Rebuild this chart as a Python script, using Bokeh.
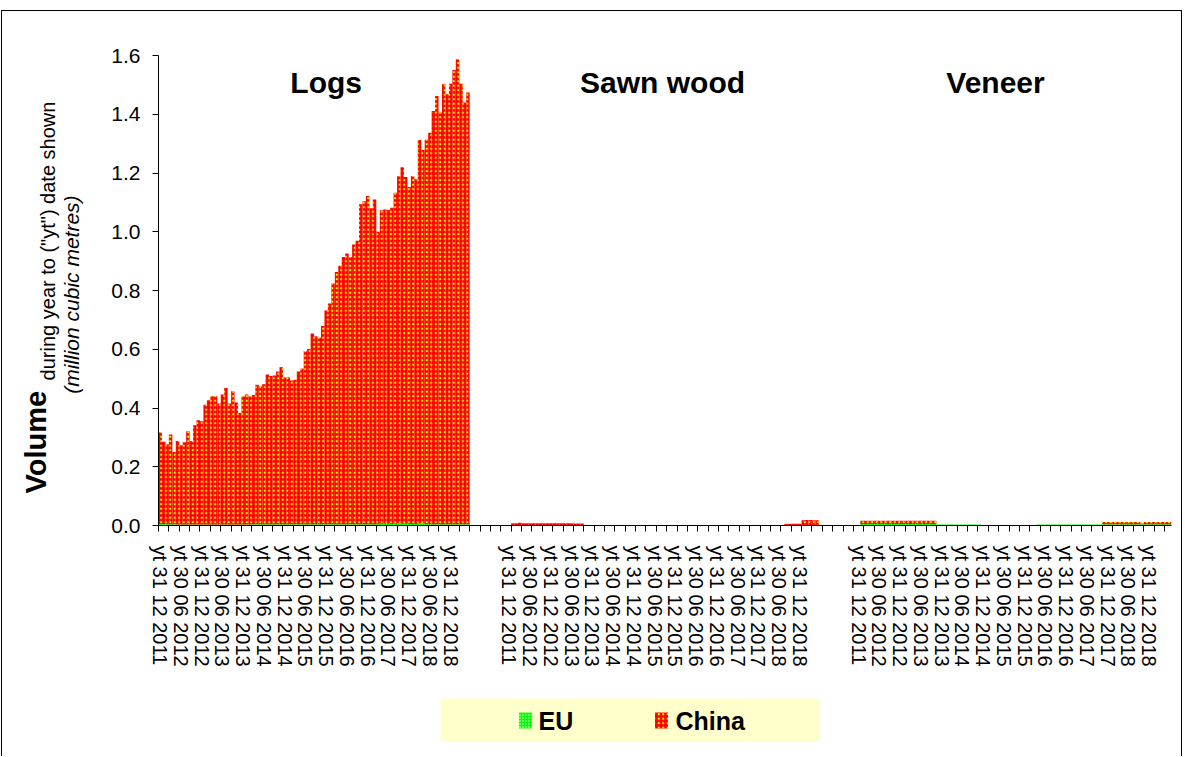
import math
import numpy as np
from bokeh.plotting import figure
from bokeh.models import ColumnDataSource, FixedTicker, Range1d, Label, PrintfTickFormatter, Spacer
from bokeh.layouts import column, row
from bokeh.embed import file_html
from bokeh.resources import INLINE
from bokeh.core.properties import value

FONT = "Liberation Sans"

# ---------------- data ----------------
groups = ["Logs", "Sawn wood", "Veneer"]
series = ["EU", "China"]
tick_labels = ["yt 31 12 2011", "yt 30 06 2012", "yt 31 12 2012", "yt 30 06 2013",
               "yt 31 12 2013", "yt 30 06 2014", "yt 31 12 2014", "yt 30 06 2015",
               "yt 31 12 2015", "yt 30 06 2016", "yt 31 12 2016", "yt 30 06 2017",
               "yt 31 12 2017", "yt 30 06 2018", "yt 31 12 2018"]
y_ticks = [0.0, 0.2, 0.4, 0.6, 0.8, 1.0, 1.2, 1.4, 1.6]
y_title = ["Volume", 'during year to ("yt") date shown', "(million cubic metres)"]

# monthly "year to" volumes, million m3, from Dec 2011
logs_eu = [0.005, 0.005, 0.004, 0.004, 0.004, 0.003, 0.003, 0.003, 0.003, 0.003,
           0.003, 0.003, 0.003, 0.003, 0.003, 0.003, 0.003, 0.003, 0.003, 0.003,
           0.003, 0.003, 0.003, 0.003, 0.003, 0.003, 0.003, 0.004, 0.004, 0.004,
           0.004, 0.004, 0.004, 0.004, 0.004, 0.004, 0.004, 0.004, 0.004, 0.004,
           0.004, 0.004, 0.004, 0.004, 0.004, 0.004, 0.004, 0.004, 0.004, 0.004,
           0.004, 0.004, 0.004, 0.004, 0.004, 0.004, 0.004, 0.004, 0.004, 0.004,
           0.004, 0.004, 0.004, 0.005, 0.006, 0.006, 0.006, 0.005, 0.006, 0.007,
           0.006, 0.006, 0.005, 0.005, 0.005, 0.007, 0.007, 0.005, 0.004, 0.004,
           0.004, 0.004, 0.004, 0.004, 0.004, 0.004, 0.004, 0.004, 0.004, 0.004]
logs_china = [0.312, 0.280, 0.272, 0.306, 0.246, 0.285, 0.270, 0.280, 0.318, 0.285,
              0.338, 0.355, 0.352, 0.408, 0.423, 0.437, 0.437, 0.412, 0.443, 0.465,
              0.412, 0.454, 0.416, 0.380, 0.436, 0.443, 0.436, 0.440, 0.475, 0.470,
              0.477, 0.510, 0.505, 0.507, 0.520, 0.535, 0.500, 0.500, 0.490, 0.492,
              0.520, 0.530, 0.590, 0.597, 0.650, 0.640, 0.635, 0.675, 0.728, 0.752,
              0.820, 0.859, 0.880, 0.910, 0.922, 0.910, 0.953, 0.965, 1.090, 1.100,
              1.118, 1.076, 1.106, 0.995, 1.067, 1.070, 1.068, 1.077, 1.127, 1.182,
              1.214, 1.180, 1.147, 1.184, 1.174, 1.305, 1.271, 1.308, 1.333, 1.407,
              1.458, 1.402, 1.498, 1.464, 1.500, 1.547, 1.583, 1.500, 1.436, 1.470]
sawn_eu = [0.0] * 91
sawn_china = [0.000, 0.008, 0.008, 0.009, 0.008, 0.008, 0.008, 0.008, 0.008, 0.008,
              0.008, 0.008, 0.008, 0.008, 0.008, 0.008, 0.008, 0.008, 0.008, 0.007,
              0.007, 0.007, 0.000, 0.000, 0.000, 0.000, 0.000, 0.000, 0.000, 0.000,
              0.000, 0.000, 0.000, 0.000, 0.000, 0.000, 0.000, 0.000, 0.000, 0.000,
              0.000, 0.000, 0.000, 0.000, 0.000, 0.000, 0.000, 0.000, 0.000, 0.000,
              0.000, 0.000, 0.000, 0.000, 0.000, 0.000, 0.000, 0.000, 0.000, 0.000,
              0.000, 0.000, 0.000, 0.000, 0.000, 0.000, 0.000, 0.000, 0.000, 0.000,
              0.000, 0.000, 0.000, 0.000, 0.000, 0.000, 0.000, 0.000, 0.000, 0.000,
              0.005, 0.005, 0.006, 0.006, 0.006, 0.018, 0.019, 0.019, 0.018, 0.018,
              0.000]
veneer_eu = [0.000, 0.005, 0.005, 0.005, 0.005, 0.005, 0.005, 0.005, 0.005, 0.005,
             0.005, 0.005, 0.005, 0.005, 0.005, 0.005, 0.005, 0.005, 0.005, 0.005,
             0.005, 0.005, 0.005, 0.003, 0.003, 0.003, 0.003, 0.003, 0.003, 0.003,
             0.003, 0.003, 0.003, 0.003, 0.003, 0.003, 0.000, 0.000, 0.000, 0.000,
             0.000, 0.000, 0.000, 0.000, 0.000, 0.000, 0.000, 0.000, 0.000, 0.000,
             0.000, 0.000, 0.003, 0.003, 0.003, 0.003, 0.003, 0.003, 0.003, 0.003,
             0.003, 0.003, 0.003, 0.003, 0.003, 0.003, 0.003, 0.003, 0.003, 0.003,
             0.003, 0.004, 0.004, 0.004, 0.004, 0.004, 0.004, 0.004, 0.004, 0.004,
             0.004, 0.004, 0.004, 0.004, 0.004, 0.004, 0.004, 0.004, 0.004, 0.004,
             0.004]
veneer_china = [0.000, 0.011, 0.011, 0.011, 0.011, 0.011, 0.011, 0.011, 0.011, 0.011,
                0.011, 0.011, 0.011, 0.011, 0.011, 0.011, 0.011, 0.011, 0.011, 0.011,
                0.011, 0.011, 0.011, 0.000, 0.000, 0.000, 0.000, 0.000, 0.000, 0.000,
                0.000, 0.000, 0.000, 0.000, 0.000, 0.000, 0.000, 0.000, 0.000, 0.000,
                0.000, 0.000, 0.000, 0.000, 0.000, 0.000, 0.000, 0.000, 0.000, 0.000,
                0.000, 0.000, 0.000, 0.000, 0.000, 0.000, 0.000, 0.000, 0.000, 0.000,
                0.000, 0.000, 0.000, 0.000, 0.000, 0.000, 0.000, 0.000, 0.000, 0.000,
                0.000, 0.008, 0.008, 0.008, 0.008, 0.008, 0.008, 0.008, 0.008, 0.008,
                0.008, 0.008, 0.003, 0.008, 0.008, 0.008, 0.008, 0.008, 0.008, 0.008,
                0.008]

eu_data = [logs_eu, sawn_eu, veneer_eu]
china_data = [logs_china, sawn_china, veneer_china]

# ---------------- categories ----------------
n_months = 91
group_gap = 10
group_step = n_months + group_gap
n_slots = 2 * group_step + n_months

xs, eu_top, ch_bottom, ch_top = [], [], [], []
for g in range(len(groups)):
    eu = np.array(eu_data[g], dtype=float)
    ch = np.array(china_data[g], dtype=float)
    x = g * group_step + np.arange(len(ch))
    xs.extend(x.tolist())
    eu_top.extend(eu.tolist())
    ch_bottom.extend(eu.tolist())
    ch_top.extend((eu + ch).tolist())

src = ColumnDataSource(dict(x=xs, eu_top=eu_top, ch_bottom=ch_bottom, ch_top=ch_top))

BT, BB = 44, 165  # top / bottom borders shared by the top row

# ---------------- main plot ----------------
p = figure(width=1077, height=679,
           x_range=Range1d(-0.5, n_slots - 0.5), y_range=Range1d(0, 1.6),
           output_backend="svg", toolbar_location=None,
           min_border_left=58, min_border_right=6, min_border_top=BT, min_border_bottom=BB)
p.xgrid.visible = False
p.ygrid.visible = False
p.outline_line_color = None
p.background_fill_color = "white"
p.border_fill_color = "white"

p.vbar(x="x", bottom=0, top="eu_top", width=1.0, source=src,
       fill_color="#00FF00", line_color=None,
       hatch_pattern="dot", hatch_color="white", hatch_scale=3, hatch_weight=1)
p.vbar(x="x", bottom="ch_bottom", top="ch_top", width=1.0, source=src,
       fill_color="#FF0000", line_color=None,
       hatch_pattern="dot", hatch_color="#FFFF00", hatch_scale=4.5, hatch_weight=1)

label_pos = []
overrides = {}
for g in range(len(groups)):
    for k, lab in enumerate(tick_labels):
        pos = g * group_step + 6 * k
        label_pos.append(pos)
        overrides[pos] = lab
edges = [-0.5 + 3 * k for k in range(int(n_slots / 3) + 1)]

xa = p.xaxis[0]
xa.ticker = FixedTicker(ticks=label_pos, minor_ticks=edges)
xa.major_label_overrides = overrides
xa.major_label_orientation = -math.pi / 2
xa.major_tick_out = 0
xa.major_tick_in = 0
xa.minor_tick_out = 6
xa.minor_tick_in = 0
xa.major_label_standoff = 14
xa.major_label_text_font = FONT
xa.major_label_text_font_size = "20px"
xa.major_label_text_color = "black"
xa.axis_line_color = "black"
xa.minor_tick_line_color = "black"

ya = p.yaxis[0]
ya.ticker = FixedTicker(ticks=y_ticks)
ya.formatter = PrintfTickFormatter(format="%.1f")
ya.major_tick_out = 6
ya.major_tick_in = 0
ya.minor_tick_out = 0
ya.minor_tick_in = 0
ya.major_label_standoff = 12
ya.major_label_text_font = FONT
ya.major_label_text_font_size = "21px"
ya.major_label_text_color = "black"
ya.axis_line_color = "black"
ya.major_tick_line_color = "black"

title_x = [48.0, 145.3, 241.6]
for g, name in enumerate(groups):
    p.add_layout(Label(x=title_x[g], y=1.508, text=name, text_align="center",
                       text_baseline="middle", text_font=FONT, text_font_size="30px",
                       text_font_style="bold", text_color="black"))

# ---------------- y title panel ----------------
yt = figure(width=98, height=679, x_range=Range1d(2, 100), y_range=Range1d(0, 1.6),
            output_backend="svg", toolbar_location=None,
            x_axis_location=None, y_axis_location=None,
            min_border_left=0, min_border_right=0, min_border_top=BT, min_border_bottom=BB,
            outline_line_color=None, background_fill_color="white", border_fill_color="white")
yt.grid.visible = False
yt.text(x=[35], y=[0.109], text=[y_title[0]], angle=math.pi / 2, text_align="left",
        text_baseline="middle", text_font=value(FONT), text_font_style="bold",
        text_font_size="29px", text_color="black")
yt.text(x=[47.5], y=[0.494], text=[y_title[1]], angle=math.pi / 2, text_align="left",
        text_baseline="middle", text_font=value(FONT), text_font_size="20px",
        text_color="black")
yt.text(x=[70.5], y=[0.786], text=[y_title[2]], angle=math.pi / 2, text_align="center",
        text_baseline="middle", text_font=value(FONT), text_font_style="italic",
        text_font_size="21px", text_color="black")

# ---------------- legend ----------------
leg = figure(width=380, height=44, x_range=Range1d(0, 380), y_range=Range1d(0, 44),
             output_backend="svg", toolbar_location=None,
             x_axis_location=None, y_axis_location=None,
             min_border_left=0, min_border_right=0, min_border_top=0, min_border_bottom=0,
             background_fill_color="#FFFFCC", border_fill_color="#FFFFCC",
             outline_line_color=None)
leg.grid.visible = False
leg.rect(x=[85], y=[22], width=13, height=16, fill_color="#00FF00", line_color=None,
         hatch_pattern="dot", hatch_color="white", hatch_scale=3, hatch_weight=1)
leg.text(x=[98], y=[22], text=[series[0]], text_font=value(FONT), text_font_style="bold",
         text_font_size="25px", text_baseline="middle", text_color="black")
leg.rect(x=[221], y=[22], width=13, height=16, fill_color="#FF0000", line_color=None,
         hatch_pattern="dot", hatch_color="#FFFF00", hatch_scale=4.5, hatch_weight=1)
leg.text(x=[235], y=[22], text=[series[1]], text_font=value(FONT), text_font_style="bold",
         text_font_size="25px", text_baseline="middle", text_color="black")

layout = column(row(yt, p), Spacer(width=10, height=8), row(Spacer(width=438, height=44), leg),
                width=1181, height=746, margin=(10, 0, 0, 1),
                styles={"border-top": "1px solid black", "border-left": "1px solid black",
                        "border-right": "1px solid black"})
open("out.html", "w").write(file_html(layout, INLINE))
